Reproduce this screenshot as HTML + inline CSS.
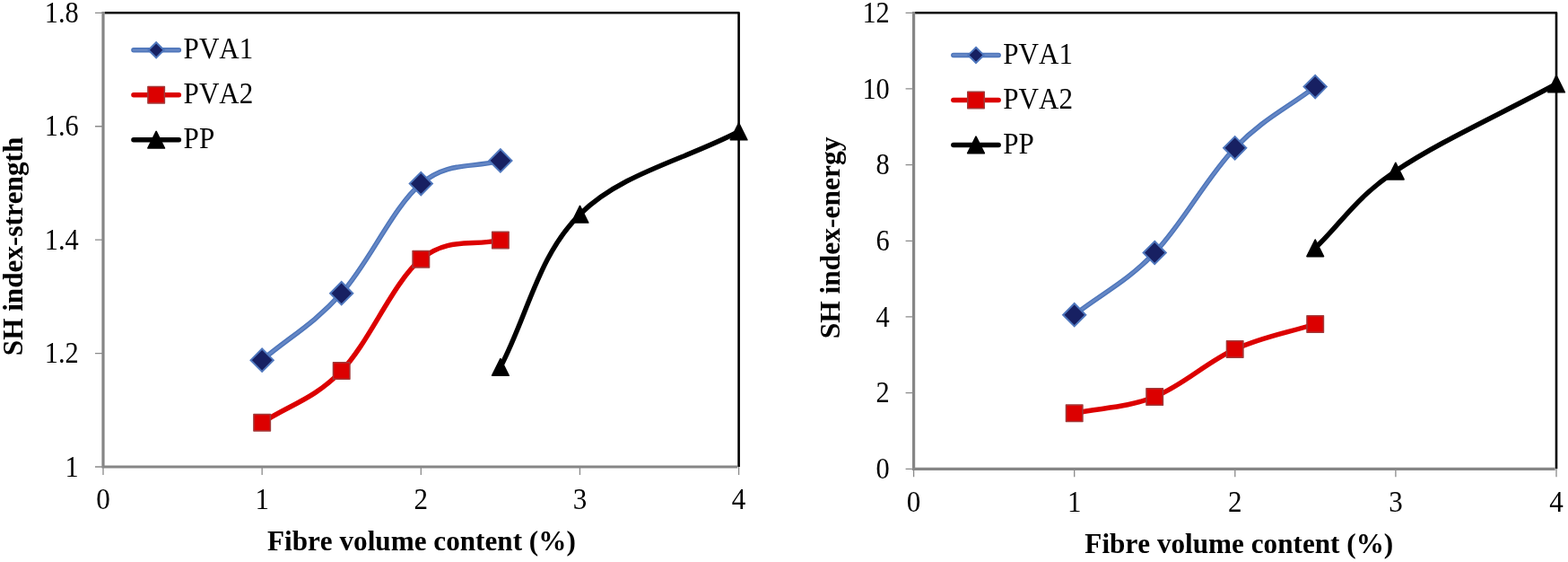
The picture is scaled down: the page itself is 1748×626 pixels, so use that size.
<!DOCTYPE html>
<html><head><meta charset="utf-8"><title>SH index charts</title>
<style>
html,body{margin:0;padding:0;background:#fff;}
body{width:1748px;height:626px;overflow:hidden;}
svg{display:block;}
text{font-family:"Liberation Serif","Times New Roman",serif;fill:#000;font-kerning:none;}
.t{font-size:33.6px;}
.b{font-size:32.5px;font-weight:bold;}
</style></head><body>
<svg width="1748" height="626" viewBox="0 0 1748 626">
<rect width="1748" height="626" fill="#fff"/>
<g id="left">
<path d="M116.50,14.30 H823.60 V520.00" fill="none" stroke="#000" stroke-width="2.6" stroke-linejoin="round"/>
<path d="M115.00,13.00 V520.00 H822.30" fill="none" stroke="#868686" stroke-width="3.2" stroke-linejoin="miter"/>
<path d="M106.00,520.00H115.00M106.00,393.57H115.00M106.00,267.15H115.00M106.00,140.73H115.00M106.00,14.30H115.00M115.00,520.00V529.00M292.15,520.00V529.00M469.30,520.00V529.00M646.45,520.00V529.00M823.60,520.00V529.00" stroke="#8a8a8a" stroke-width="1.3" fill="none"/>
<text transform="translate(87.80,530.60) scale(0.905,1)" text-anchor="end" class="t">1</text>
<text transform="translate(87.80,404.18) scale(0.905,1)" text-anchor="end" class="t">1.2</text>
<text transform="translate(87.80,277.75) scale(0.905,1)" text-anchor="end" class="t">1.4</text>
<text transform="translate(87.80,151.33) scale(0.905,1)" text-anchor="end" class="t">1.6</text>
<text transform="translate(87.80,24.90) scale(0.905,1)" text-anchor="end" class="t">1.8</text>
<text transform="translate(115.00,567.20) scale(0.925,1)" text-anchor="middle" class="t">0</text>
<text transform="translate(292.15,567.20) scale(0.925,1)" text-anchor="middle" class="t">1</text>
<text transform="translate(469.30,567.20) scale(0.925,1)" text-anchor="middle" class="t">2</text>
<text transform="translate(646.45,567.20) scale(0.925,1)" text-anchor="middle" class="t">3</text>
<text transform="translate(823.60,567.20) scale(0.925,1)" text-anchor="middle" class="t">4</text>
<text transform="translate(469.90,613.00) scale(0.96,1)" text-anchor="middle" class="b">Fibre volume content (%)</text>
<text transform="translate(24.60,274.50) rotate(-90) scale(0.96,1)" text-anchor="middle" class="b">SH index-strength</text>
<path d="M292.15,401.15 C323.14,375.09 349.70,361.10 380.70,326.70 C411.70,292.30 438.29,230.46 469.30,204.60 C500.31,178.74 526.89,187.90 557.90,178.90" fill="none" stroke="#4d75ba" stroke-width="5.5" stroke-linecap="round" stroke-linejoin="round"/>
<path d="M292.15,401.15 C323.14,375.09 349.70,361.10 380.70,326.70 C411.70,292.30 438.29,230.46 469.30,204.60 C500.31,178.74 526.89,187.90 557.90,178.90" fill="none" stroke="#6587c5" stroke-width="2.6" stroke-linecap="round" stroke-linejoin="round"/>
<path d="M292.15,388.45 L304.75,401.15 L292.15,413.85 L279.55,401.15Z" fill="#172062" stroke="#4f77bd" stroke-width="2" stroke-linejoin="miter"/>
<path d="M380.70,314.00 L393.30,326.70 L380.70,339.40 L368.10,326.70Z" fill="#172062" stroke="#4f77bd" stroke-width="2" stroke-linejoin="miter"/>
<path d="M469.30,191.90 L481.90,204.60 L469.30,217.30 L456.70,204.60Z" fill="#172062" stroke="#4f77bd" stroke-width="2" stroke-linejoin="miter"/>
<path d="M557.90,166.20 L570.50,178.90 L557.90,191.60 L545.30,178.90Z" fill="#172062" stroke="#4f77bd" stroke-width="2" stroke-linejoin="miter"/>
<path d="M292.15,470.85 C323.14,450.64 349.70,444.98 380.70,413.10 C411.70,381.22 438.29,314.20 469.30,288.70 C500.31,263.20 526.89,274.85 557.90,267.40" fill="none" stroke="#dc0000" stroke-width="5.5" stroke-linecap="round" stroke-linejoin="round"/>
<rect x="282.90" y="461.60" width="18.50" height="18.50" fill="#dc0000" stroke="#a23a3a" stroke-width="1.5" stroke-linejoin="round"/>
<rect x="371.45" y="403.85" width="18.50" height="18.50" fill="#dc0000" stroke="#a23a3a" stroke-width="1.5" stroke-linejoin="round"/>
<rect x="460.05" y="279.45" width="18.50" height="18.50" fill="#dc0000" stroke="#a23a3a" stroke-width="1.5" stroke-linejoin="round"/>
<rect x="548.65" y="258.15" width="18.50" height="18.50" fill="#dc0000" stroke="#a23a3a" stroke-width="1.5" stroke-linejoin="round"/>
<path d="M557.90,409.00 C588.91,349.39 600.00,284.64 646.50,238.70 C693.00,192.76 761.62,178.77 823.60,146.50" fill="none" stroke="#000" stroke-width="5.5" stroke-linecap="round" stroke-linejoin="round"/>
<path d="M557.90,399.70 L567.20,418.30 L548.60,418.30Z" fill="#000" stroke="#000" stroke-width="1.6" stroke-linejoin="round"/>
<path d="M646.50,229.40 L655.80,248.00 L637.20,248.00Z" fill="#000" stroke="#000" stroke-width="1.6" stroke-linejoin="round"/>
<path d="M823.60,137.20 L832.90,155.80 L814.30,155.80Z" fill="#000" stroke="#000" stroke-width="1.6" stroke-linejoin="round"/>
<path d="M148.95,55.80H199.35" stroke="#4d75ba" stroke-width="5.5" stroke-linecap="round" fill="none"/>
<path d="M148.95,55.80H199.35" stroke="#6587c5" stroke-width="2.6" stroke-linecap="round" fill="none"/>
<path d="M174.15,47.20 L182.75,55.80 L174.15,64.40 L165.55,55.80Z" fill="#172062" stroke="#4f77bd" stroke-width="2" stroke-linejoin="miter"/>
<text transform="translate(204.60,65.40) scale(0.925,1)" text-anchor="start" class="t">PVA1</text>
<path d="M148.95,105.70H199.35" stroke="#dc0000" stroke-width="5.5" stroke-linecap="round" fill="none"/>
<rect x="164.90" y="96.45" width="18.50" height="18.50" fill="#dc0000" stroke="#a23a3a" stroke-width="1.5" stroke-linejoin="round"/>
<text transform="translate(204.60,115.30) scale(0.925,1)" text-anchor="start" class="t">PVA2</text>
<path d="M148.95,155.70H199.35" stroke="#000" stroke-width="5.5" stroke-linecap="round" fill="none"/>
<path d="M174.15,146.40 L183.45,165.00 L164.85,165.00Z" fill="#000" stroke="#000" stroke-width="1.6" stroke-linejoin="round"/>
<text transform="translate(204.60,165.30) scale(0.925,1)" text-anchor="start" class="t">PP</text>
</g>
<g id="right">
<path d="M1020.10,14.30 H1735.00 V522.30" fill="none" stroke="#000" stroke-width="2.6" stroke-linejoin="round"/>
<path d="M1018.60,13.00 V522.30 H1733.70" fill="none" stroke="#868686" stroke-width="3.2" stroke-linejoin="miter"/>
<path d="M1009.60,522.30H1018.60M1009.60,437.63H1018.60M1009.60,352.97H1018.60M1009.60,268.30H1018.60M1009.60,183.63H1018.60M1009.60,98.97H1018.60M1009.60,14.30H1018.60M1018.60,522.30V531.30M1197.70,522.30V531.30M1376.80,522.30V531.30M1555.90,522.30V531.30M1735.00,522.30V531.30" stroke="#8a8a8a" stroke-width="1.3" fill="none"/>
<text transform="translate(991.80,532.90) scale(0.905,1)" text-anchor="end" class="t">0</text>
<text transform="translate(991.80,448.23) scale(0.905,1)" text-anchor="end" class="t">2</text>
<text transform="translate(991.80,363.57) scale(0.905,1)" text-anchor="end" class="t">4</text>
<text transform="translate(991.80,278.90) scale(0.905,1)" text-anchor="end" class="t">6</text>
<text transform="translate(991.80,194.23) scale(0.905,1)" text-anchor="end" class="t">8</text>
<text transform="translate(991.80,109.57) scale(0.905,1)" text-anchor="end" class="t">10</text>
<text transform="translate(991.80,24.90) scale(0.905,1)" text-anchor="end" class="t">12</text>
<text transform="translate(1018.60,569.80) scale(0.925,1)" text-anchor="middle" class="t">0</text>
<text transform="translate(1197.70,569.80) scale(0.925,1)" text-anchor="middle" class="t">1</text>
<text transform="translate(1376.80,569.80) scale(0.925,1)" text-anchor="middle" class="t">2</text>
<text transform="translate(1555.90,569.80) scale(0.925,1)" text-anchor="middle" class="t">3</text>
<text transform="translate(1735.00,569.80) scale(0.925,1)" text-anchor="middle" class="t">4</text>
<text transform="translate(1381.30,616.00) scale(0.96,1)" text-anchor="middle" class="b">Fibre volume content (%)</text>
<text transform="translate(935.80,264.90) rotate(-90) scale(0.97,1)" text-anchor="middle" class="b">SH index-energy</text>
<path d="M1197.70,350.70 C1229.03,326.48 1255.88,314.03 1287.20,281.50 C1318.53,248.97 1345.38,197.16 1376.70,164.80 C1408.03,132.44 1434.88,120.47 1466.20,96.60" fill="none" stroke="#4d75ba" stroke-width="5.5" stroke-linecap="round" stroke-linejoin="round"/>
<path d="M1197.70,350.70 C1229.03,326.48 1255.88,314.03 1287.20,281.50 C1318.53,248.97 1345.38,197.16 1376.70,164.80 C1408.03,132.44 1434.88,120.47 1466.20,96.60" fill="none" stroke="#6587c5" stroke-width="2.6" stroke-linecap="round" stroke-linejoin="round"/>
<path d="M1197.70,338.00 L1210.30,350.70 L1197.70,363.40 L1185.10,350.70Z" fill="#172062" stroke="#4f77bd" stroke-width="2" stroke-linejoin="miter"/>
<path d="M1287.20,268.80 L1299.80,281.50 L1287.20,294.20 L1274.60,281.50Z" fill="#172062" stroke="#4f77bd" stroke-width="2" stroke-linejoin="miter"/>
<path d="M1376.70,152.10 L1389.30,164.80 L1376.70,177.50 L1364.10,164.80Z" fill="#172062" stroke="#4f77bd" stroke-width="2" stroke-linejoin="miter"/>
<path d="M1466.20,83.90 L1478.80,96.60 L1466.20,109.30 L1453.60,96.60Z" fill="#172062" stroke="#4f77bd" stroke-width="2" stroke-linejoin="miter"/>
<path d="M1197.70,460.30 C1229.03,453.89 1255.88,454.46 1287.20,442.00 C1318.53,429.54 1345.38,403.28 1376.70,389.10 C1408.03,374.93 1434.88,370.84 1466.20,361.00" fill="none" stroke="#dc0000" stroke-width="5.5" stroke-linecap="round" stroke-linejoin="round"/>
<rect x="1188.45" y="451.05" width="18.50" height="18.50" fill="#dc0000" stroke="#a23a3a" stroke-width="1.5" stroke-linejoin="round"/>
<rect x="1277.95" y="432.75" width="18.50" height="18.50" fill="#dc0000" stroke="#a23a3a" stroke-width="1.5" stroke-linejoin="round"/>
<rect x="1367.45" y="379.85" width="18.50" height="18.50" fill="#dc0000" stroke="#a23a3a" stroke-width="1.5" stroke-linejoin="round"/>
<rect x="1456.95" y="351.75" width="18.50" height="18.50" fill="#dc0000" stroke="#a23a3a" stroke-width="1.5" stroke-linejoin="round"/>
<path d="M1466.20,276.30 C1497.56,246.31 1508.76,222.59 1555.80,190.60 C1602.84,158.61 1672.28,127.48 1735.00,93.50" fill="none" stroke="#000" stroke-width="5.5" stroke-linecap="round" stroke-linejoin="round"/>
<path d="M1466.20,267.00 L1475.50,285.60 L1456.90,285.60Z" fill="#000" stroke="#000" stroke-width="1.6" stroke-linejoin="round"/>
<path d="M1555.80,181.30 L1565.10,199.90 L1546.50,199.90Z" fill="#000" stroke="#000" stroke-width="1.6" stroke-linejoin="round"/>
<path d="M1735.00,84.20 L1744.30,102.80 L1725.70,102.80Z" fill="#000" stroke="#000" stroke-width="1.6" stroke-linejoin="round"/>
<path d="M1062.85,61.40H1113.15" stroke="#4d75ba" stroke-width="5.5" stroke-linecap="round" fill="none"/>
<path d="M1062.85,61.40H1113.15" stroke="#6587c5" stroke-width="2.6" stroke-linecap="round" fill="none"/>
<path d="M1088.00,52.80 L1096.60,61.40 L1088.00,70.00 L1079.40,61.40Z" fill="#172062" stroke="#4f77bd" stroke-width="2" stroke-linejoin="miter"/>
<text transform="translate(1118.30,71.20) scale(0.925,1)" text-anchor="start" class="t">PVA1</text>
<path d="M1062.85,111.40H1113.15" stroke="#dc0000" stroke-width="5.5" stroke-linecap="round" fill="none"/>
<rect x="1078.75" y="102.15" width="18.50" height="18.50" fill="#dc0000" stroke="#a23a3a" stroke-width="1.5" stroke-linejoin="round"/>
<text transform="translate(1118.30,121.20) scale(0.925,1)" text-anchor="start" class="t">PVA2</text>
<path d="M1062.85,161.40H1113.15" stroke="#000" stroke-width="5.5" stroke-linecap="round" fill="none"/>
<path d="M1088.00,152.10 L1097.30,170.70 L1078.70,170.70Z" fill="#000" stroke="#000" stroke-width="1.6" stroke-linejoin="round"/>
<text transform="translate(1118.30,171.20) scale(0.925,1)" text-anchor="start" class="t">PP</text>
</g>
</svg>
</body></html>
